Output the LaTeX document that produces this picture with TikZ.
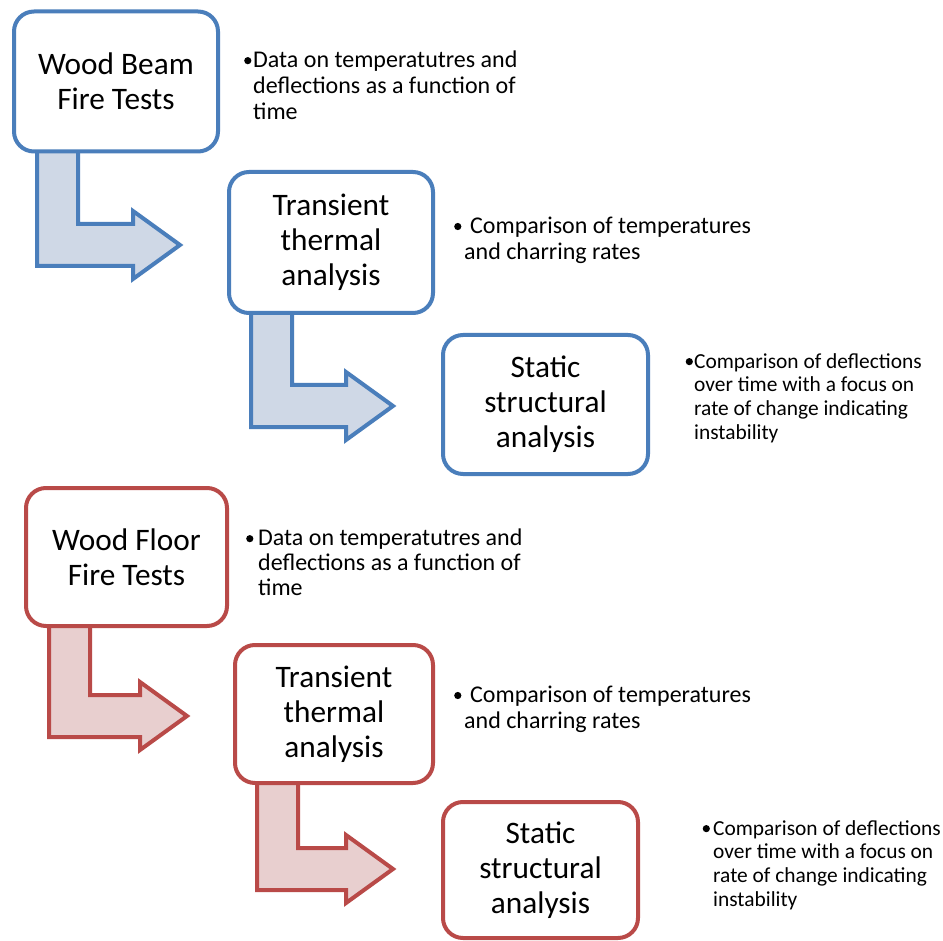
\documentclass[tikz,border=0pt]{standalone}
\usepackage{fontspec}
\setmainfont{Carlito}
\usetikzlibrary{positioning}
\definecolor{beamline}{HTML}{4A7EBB}
\definecolor{beamfill}{HTML}{CFD8E6}
\definecolor{floorline}{HTML}{B94A48}
\definecolor{floorfill}{HTML}{E8CFCF}
\newcommand{\bentarrow}[5]{%
\draw[#1] (#2,#3) -- (#2,#5+21) -- (#4-47,#5+21) -- (#4-47,#5+34) -- (#4,#5)
  -- (#4-47,#5-34) -- (#4-47,#5-21) -- (#2+41,#5-21) -- (#2+41,#3) -- cycle;}
\newcommand{\blt}[1]{\makebox[#1][l]{\raisebox{0.3em}{\tikz[baseline=0pt]\fill (0,0) circle (3.6pt);}}}
\begin{document}
\begin{tikzpicture}[x=1pt,y=-1pt,
  step box/.style={draw, fill=white, line width=4pt, rounded corners=20pt,
    align=center, minimum width=204pt, minimum height=140pt, inner sep=0pt,
    font=\fontsize{31.3}{35}\selectfont},
  beam box/.style={step box, draw=beamline},
  floor box/.style={step box, draw=floorline},
  note/.style={anchor=north west, align=left, inner sep=0pt,
    font=\fontsize{24}{25.8}\selectfont},
  small note/.style={note, font=\fontsize{21.4}{23.7}\selectfont},
  beam arrow/.style={draw=beamline, fill=beamfill, line width=4pt, line join=miter},
  floor arrow/.style={draw=floorline, fill=floorfill, line width=4pt, line join=miter}]
\useasboundingbox[fill=white] (0,0) rectangle (943,941);
\bentarrow{beam arrow}{37}{150}{180}{245}
\bentarrow{beam arrow}{251}{310}{393}{406}
\bentarrow{floor arrow}{49}{623}{187}{716}
\bentarrow{floor arrow}{257}{780}{393}{869}
\node[beam box] (b1) at (116,81.5) {Wood Beam\\Fire Tests};
\node[beam box, minimum height=141pt] (b2) at (331,242.5) {Transient\\thermal\\analysis};
\node[beam box, minimum width=205pt, minimum height=139pt] (b3) at (545.5,404.5) {Static\\structural\\analysis};
\node[floor box, minimum width=201pt, minimum height=138pt] (f1) at (126.5,557) {Wood Floor\\Fire Tests};
\node[floor box, minimum width=198pt, minimum height=138pt] (f2) at (334,714) {Transient\\thermal\\analysis};
\node[floor box, minimum width=195pt, minimum height=136pt] (f3) at (540.5,870) {Static\\structural\\analysis};
\node[note] (n1) at (244,51) {\blt{9pt}Data on temperatutres and\\\hspace*{9pt}deflections as a function of\\\hspace*{9pt}time};
\node[note] (n2) at (454,217) {\blt{16pt}Comparison of temperatures\\\hspace*{10pt}and charring rates};
\node[small note] (n3) at (685.5,353) {\blt{8.5pt}Comparison of deflections\\\hspace*{8.5pt}over time with a focus on\\\hspace*{8.5pt}rate of change indicating\\\hspace*{8.5pt}instability};
\node[note, font=\fontsize{24}{24.6}\selectfont] (n4) at (246,529) {\blt{12pt}Data on temperatutres and\\\hspace*{12pt}deflections as a function of\\\hspace*{12pt}time};
\node[note] (n5) at (454,686) {\blt{16pt}Comparison of temperatures\\\hspace*{10pt}and charring rates};
\node[small note] (n6) at (702.5,820) {\blt{10.5pt}Comparison of deflections\\\hspace*{10.5pt}over time with a focus on\\\hspace*{10.5pt}rate of change indicating\\\hspace*{10.5pt}instability};
\end{tikzpicture}
\end{document}
